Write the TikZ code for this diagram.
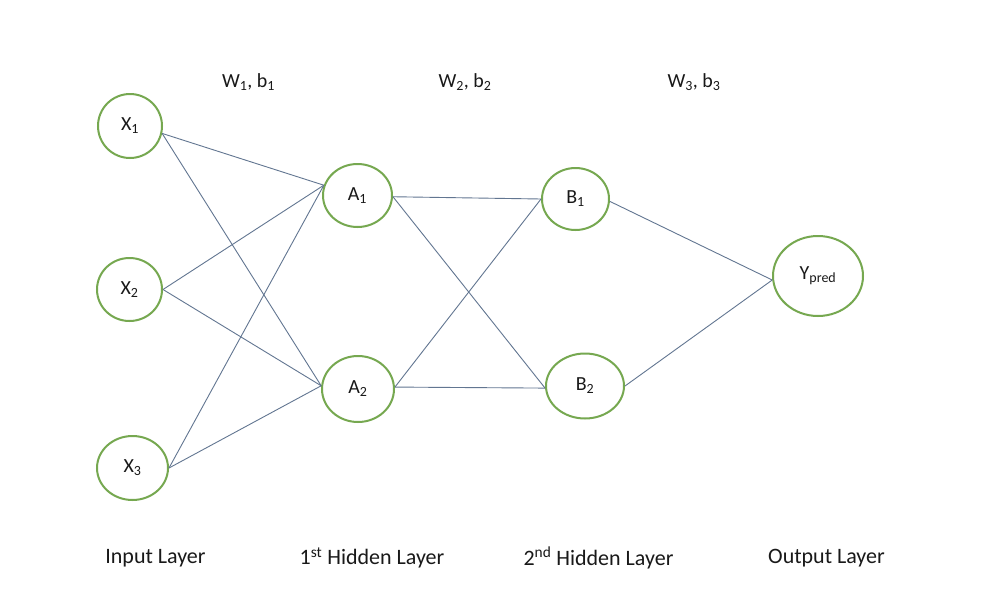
\documentclass[tikz,border=0pt]{standalone}
\usepackage{fontspec}
\setmainfont{Carlito}
\usetikzlibrary{shapes.geometric}
\definecolor{ngreen}{RGB}{118,168,80}
\definecolor{lgray}{RGB}{98,118,145}
\definecolor{txt}{RGB}{25,25,25}
\begin{document}
\begin{tikzpicture}[x=1pt,y=-1pt,
  neuron/.style={draw=ngreen, line width=2pt, ellipse, inner sep=0pt, text=txt, font=\fontsize{20}{24}\selectfont},
  link/.style={draw=lgray, line width=0.9pt},
  wlabel/.style={text=txt, font=\fontsize{20}{24}\selectfont, inner sep=0pt},
  layerlabel/.style={text=txt, font=\fontsize{22}{26}\selectfont, inner sep=0pt}]
\useasboundingbox[fill=white] (0,0) rectangle (993,608);
% neurons
\node[neuron, minimum width=64pt, minimum height=64pt] (X1) at (130,126) {X\textsubscript{1}};
\node[neuron, minimum width=65pt, minimum height=63pt] (X2) at (129.5,289.5) {X\textsubscript{2}};
\node[neuron, minimum width=71pt, minimum height=64pt] (X3) at (132.5,468) {X\textsubscript{3}};
\node[neuron, minimum width=69pt, minimum height=63pt] (A1) at (357.5,195.5) {A\textsubscript{1}};
\node[neuron, minimum width=72pt, minimum height=66pt] (A2) at (358,389) {A\textsubscript{2}};
\node[neuron, minimum width=67pt, minimum height=62pt] (B1) at (575.5,199) {B\textsubscript{1}};
\node[neuron, minimum width=78pt, minimum height=65pt] (B2) at (585,386) {B\textsubscript{2}};
\node[neuron, minimum width=90pt, minimum height=80pt] (Y) at (818,276) {Y\textsubscript{pred}};
% connections
\draw[link] (X1.-13) -- (A1.163);
\draw[link] (X1.-13) -- (A2.175);
\draw[link] (X2.east) -- (A1.163);
\draw[link] (X2.east) -- (A2.175);
\draw[link] (X3.east) -- (A1.163);
\draw[link] (X3.east) -- (A2.175);
\draw[link] (A1.-2) -- (B1.west);
\draw[link] (A1.-2) -- (B2.183);
\draw[link] (A2.3) -- (B1.west);
\draw[link] (A2.3) -- (B2.183);
\draw[link] (B1.-4) -- (Y.185);
\draw[link] (B2.east) -- (Y.185);
% weight labels
\node[wlabel] (w1) at (248.5,82) {W\textsubscript{1}, b\textsubscript{1}};
\node[wlabel] (w2) at (465,82) {W\textsubscript{2}, b\textsubscript{2}};
\node[wlabel] (w3) at (694,82) {W\textsubscript{3}, b\textsubscript{3}};
% layer labels
\node[layerlabel] (l1) at (155.5,558) {Input Layer};
\node[layerlabel] (l2) at (372,558) {1\textsuperscript{st} Hidden Layer};
\node[layerlabel] (l3) at (598.5,558) {2\textsuperscript{nd} Hidden Layer};
\node[layerlabel] (l4) at (826.5,558) {Output Layer};
\end{tikzpicture}
\end{document}
